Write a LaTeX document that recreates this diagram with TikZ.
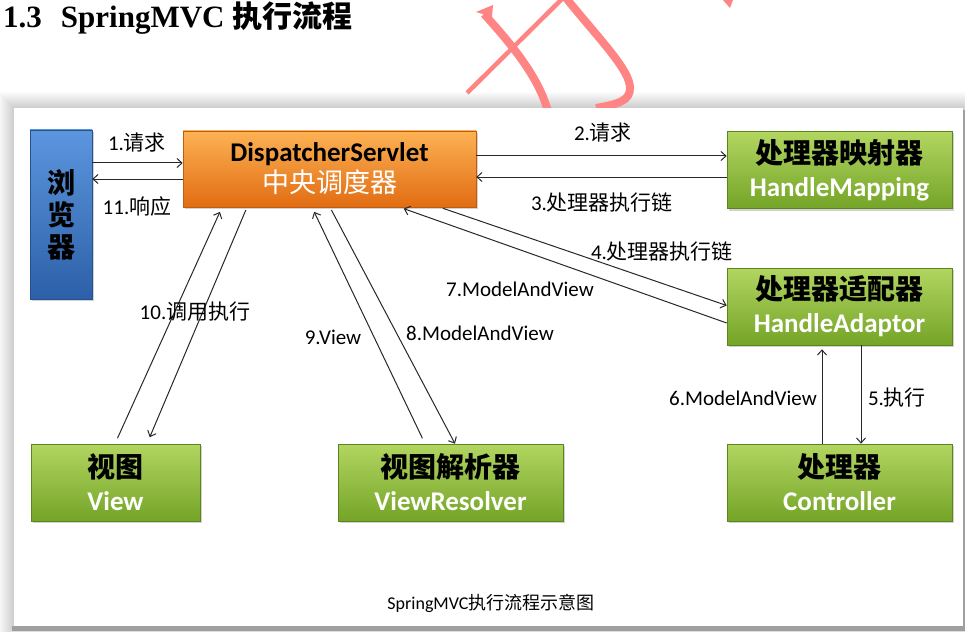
\documentclass[tikz,border=0pt]{standalone}
\usepackage{fontspec}
\setmainfont{Carlito}
\newfontfamily\cjk{Noto Sans CJK SC}
\newfontfamily\titleserif{Liberation Serif}
\usepackage{tikz}
\usetikzlibrary{arrows.meta,shadows}
\definecolor{BrowserTop}{RGB}{92,150,222}
\definecolor{BrowserBottom}{RGB}{44,96,168}
\definecolor{DispatcherTop}{RGB}{252,178,84}
\definecolor{DispatcherBottom}{RGB}{226,108,18}
\definecolor{HandlerTop}{RGB}{178,214,96}
\definecolor{HandlerBottom}{RGB}{116,164,40}
\definecolor{MarkColor}{RGB}{255,132,132}
\definecolor{LineColor}{RGB}{40,40,40}
\tikzset{
    panel/.style={shading=axis,inner sep=0pt,align=center,line width=0.6pt,
        drop shadow={opacity=0.35,shadow xshift=1.5pt,shadow yshift=-2pt}},
    greenbox/.style={panel,top color=HandlerTop,bottom color=HandlerBottom,
        draw=HandlerBottom!80!black,minimum width=225pt,minimum height=77pt,
        font=\fontsize{27}{33}\selectfont\bfseries},
    orangebox/.style={panel,top color=DispatcherTop,bottom color=DispatcherBottom,
        draw=DispatcherBottom!85!black,minimum width=293pt,minimum height=76pt,
        font=\fontsize{27}{31}\selectfont\bfseries},
    bluebox/.style={panel,top color=BrowserTop,bottom color=BrowserBottom,
        draw=BrowserBottom!85!black,minimum width=62pt,minimum height=169pt,
        font=\cjk\fontsize{28}{32}\selectfont\bfseries},
    flow/.style={draw=LineColor,line width=1pt,-{Straight Barb[length=5pt,width=9pt]}},
    lbl/.style={font=\fontsize{21}{24}\selectfont,inner sep=0pt}
}
\begin{document}
\begin{tikzpicture}[x=1pt,y=-1pt]
\useasboundingbox (0,0) rectangle (965,631);
\fill[white] (0,0) rectangle (965,631);

\node[anchor=west,inner sep=0pt] (title) at (3,18)
    {{\titleserif\bfseries\fontsize{31}{34}\selectfont 1.3\hspace{19pt}SpringMVC}\hspace{8pt}{\cjk\bfseries\fontsize{30}{34}\selectfont 执行流程}};

\foreach \i in {1,...,16}
    \fill[black,opacity=0.012] (14-\i,108-\i) rectangle (963+\i,626+\i);

\draw[MarkColor,line width=8pt] (484,14) .. controls (515,48) and (540,80) .. (548,112);
\fill[MarkColor] (476,12) -- (493,5) -- (492,17) -- cycle;
\draw[MarkColor,line width=4.5pt] (467,93) -- (563,-2);
\draw[MarkColor,line width=8pt] (566,-2) .. controls (600,40) and (630,70) .. (630,88)
    .. controls (630,100) and (620,104) .. (596,108);
\fill[MarkColor] (723,0) -- (733,0) -- (730,8) -- cycle;

\fill[gray!75] (12,626) rectangle (965,631);
\fill[gray!75] (963,110) rectangle (965,631);
\fill[white] (14,108) rectangle (963,626);

\node[bluebox] (browser) at (61,214.5) {浏\\览\\器};
\node[orangebox] (disp) at (329.5,169)
    {DispatcherServlet\\{\cjk\mdseries\color{white}中央调度器}};
\node[greenbox] (mapping) at (839.5,170)
    {{\cjk\fontsize{28}{33}\selectfont 处理器映射器}\\{\color{white}HandleMapping}};
\node[greenbox] (adaptor) at (839.5,306.5)
    {{\cjk\fontsize{28}{33}\selectfont 处理器适配器}\\{\color{white}HandleAdaptor}};
\node[greenbox] (ctrl) at (839.5,482.5)
    {{\cjk\fontsize{28}{33}\selectfont 处理器}\\{\color{white}Controller}};
\node[greenbox,minimum width=169pt] (view) at (115.5,482.5)
    {{\cjk\fontsize{28}{33}\selectfont 视图}\\{\color{white}View}};
\node[greenbox] (resolver) at (450.5,482.5)
    {{\cjk\fontsize{28}{33}\selectfont 视图解析器}\\{\color{white}ViewResolver}};

\draw[flow] ([yshift=6pt]disp.west -| browser.east) -- ([yshift=6pt]disp.west);
\draw[flow] ([yshift=-10pt]disp.west) -- ([yshift=-10pt]disp.west -| browser.east);
\draw[flow] ([yshift=13pt]disp.east) -- ([yshift=13pt]disp.east -| mapping.west);
\draw[flow] ([yshift=-7pt]mapping.west) -- ([yshift=-7pt]mapping.west -| disp.east);
\draw[flow,shorten <=3pt] ([xshift=110.5pt]disp.south) -- ([yshift=1pt]adaptor.west);
\draw[flow,shorten >=4pt] ([yshift=-16.5pt]adaptor.west) -- ([xshift=70.5pt]disp.south);
\draw[flow] ([xshift=21.5pt]adaptor.south) -- ([xshift=21.5pt]adaptor.south |- ctrl.north);
\draw[flow,shorten >=4pt] ([xshift=-17.5pt]ctrl.north) -- ([xshift=-17.5pt]ctrl.north |- adaptor.south);
\draw[flow,shorten <=3pt] ([xshift=0.5pt]disp.south) -- ([xshift=4.5pt]resolver.north);
\draw[flow,shorten <=6pt,shorten >=5pt] ([xshift=-25.5pt]resolver.north) -- ([xshift=-17.5pt]disp.south);
\draw[flow,shorten <=6pt,shorten >=5pt] ([xshift=-0.5pt]view.north) -- ([xshift=-107.5pt]disp.south);
\draw[flow,shorten <=3pt,shorten >=7pt] ([xshift=-82.5pt]disp.south) -- ([xshift=31.5pt]view.north);

\node[lbl] (l1) at (137,143) {1.{\cjk 请求}};
\node[lbl] (l11) at (137,207) {11.{\cjk 响应}};
\node[lbl] (l2) at (603,133) {2.{\cjk 请求}};
\node[lbl] (l3) at (602,203) {3.{\cjk 处理器执行链}};
\node[lbl] (l4) at (662,252) {4.{\cjk 处理器执行链}};
\node[lbl] (l5) at (897,398) {5.{\cjk 执行}};
\node[lbl] (l6) at (743,398) {6.ModelAndView};
\node[lbl] (l7) at (520,289) {7.ModelAndView};
\node[lbl] (l8) at (480,333) {8.ModelAndView};
\node[lbl] (l9) at (333,337) {9.View};
\node[lbl] (l10) at (195,312) {10.{\cjk 调用执行}};
\node[font=\fontsize{18}{20}\selectfont] (caption) at (491,603)
    {SpringMVC{\cjk 执行流程示意图}};
\end{tikzpicture}
\end{document}
